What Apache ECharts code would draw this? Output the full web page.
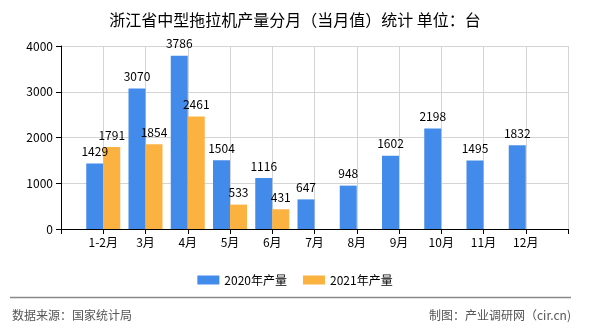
<!DOCTYPE html>
<html>
<head>
<meta charset="utf-8">
<script src="https://cdn.jsdelivr.net/npm/echarts@6/dist/echarts.min.js"></script>
<style>
html,body{margin:0;padding:0;background:#fff;}
#chart{width:590px;height:330px;}
</style>
</head>
<body>
<div id="chart"></div>
<script>
var titleText = '浙江省中型拖拉机产量分月（当月值）统计 单位：台';
var categories = ['1-2月', '3月', '4月', '5月', '6月', '7月', '8月', '9月', '10月', '11月', '12月'];
var series2020Name = '2020年产量';
var series2021Name = '2021年产量';
var values2020 = [1429, 3070, 3786, 1504, 1116, 647, 948, 1602, 2198, 1495, 1832];
var values2021 = [1791, 1854, 2461, 533, 431];
var yTicks = [0, 1000, 2000, 3000, 4000];
var sourceText = '数据来源：国家统计局';
var creditText = '制图：产业调研网（cir.cn)';

var FONT = '"Noto Sans CJK SC", "Noto Sans", sans-serif';

// pad with empty slots at both ends (axis has one empty slot before and after)
function pad(arr, n) {
  var out = ['-'];
  for (var i = 0; i < n; i++) out.push(i < arr.length ? arr[i] : '-');
  out.push('-');
  return out;
}
var axisCats = [''].concat(categories).concat(['']);

var chart = echarts.init(document.getElementById('chart'), null, {renderer: 'canvas'});
var labelCfg = {show: true, position: 'top', distance: 6, color: '#000', fontSize: 12, fontFamily: FONT};

chart.setOption({
  animation: false,
  backgroundColor: '#fff',
  textStyle: {fontFamily: FONT},
  title: {
    text: titleText,
    left: 'center',
    top: 7,
    textStyle: {fontSize: 16, fontWeight: 'normal', color: '#000', fontFamily: FONT}
  },
  grid: {left: 61, right: 22, top: 46, bottom: 101, containLabel: false},
  legend: {
    data: [series2020Name, series2021Name],
    left: 'center',
    top: 269,
    icon: 'rect',
    itemWidth: 22,
    itemHeight: 9,
    itemGap: 16,
    textStyle: {fontSize: 12, color: '#000', fontFamily: FONT}
  },
  xAxis: {
    type: 'category',
    data: axisCats,
    boundaryGap: false,
    axisLine: {show: true, lineStyle: {color: '#000', width: 1}},
    axisTick: {show: true, length: 5, interval: 0, lineStyle: {color: '#000'}},
    axisLabel: {interval: 0, color: '#000', fontSize: 12, margin: 7, fontFamily: FONT},
    splitLine: {show: true, interval: 0, lineStyle: {color: '#d4d4d4', width: 1}}
  },
  yAxis: {
    type: 'value',
    min: yTicks[0],
    max: yTicks[yTicks.length - 1],
    interval: yTicks[1] - yTicks[0],
    axisLine: {show: true, lineStyle: {color: '#000', width: 1}},
    axisTick: {show: true, length: 5, lineStyle: {color: '#000'}},
    axisLabel: {color: '#000', fontSize: 12, margin: 8, fontFamily: FONT, formatter: function (v) { return String(v); }},
    splitLine: {show: true, lineStyle: {color: '#d4d4d4', width: 1}}
  },
  series: [
    {
      name: series2020Name,
      type: 'bar',
      data: pad(values2020, categories.length),
      barWidth: 17,
      barGap: '0%',
      itemStyle: {color: '#428BEA'},
      label: labelCfg
    },
    {
      name: series2021Name,
      type: 'bar',
      data: pad(values2021, categories.length),
      barWidth: 17,
      barGap: '0%',
      itemStyle: {color: '#FBB240'},
      label: labelCfg
    }
  ],
  graphic: [
    {type: 'line', shape: {x1: 10, y1: 297.5, x2: 571, y2: 297.5}, style: {stroke: '#8a8a8a', lineWidth: 1.5}, silent: true},
    {type: 'text', left: 12, top: 309, style: {text: sourceText, fill: '#555', font: '12px ' + FONT}, silent: true},
    {type: 'text', right: 19, top: 309, style: {text: creditText, fill: '#555', font: '12px ' + FONT}, silent: true}
  ]
});
</script>
</body>
</html>
